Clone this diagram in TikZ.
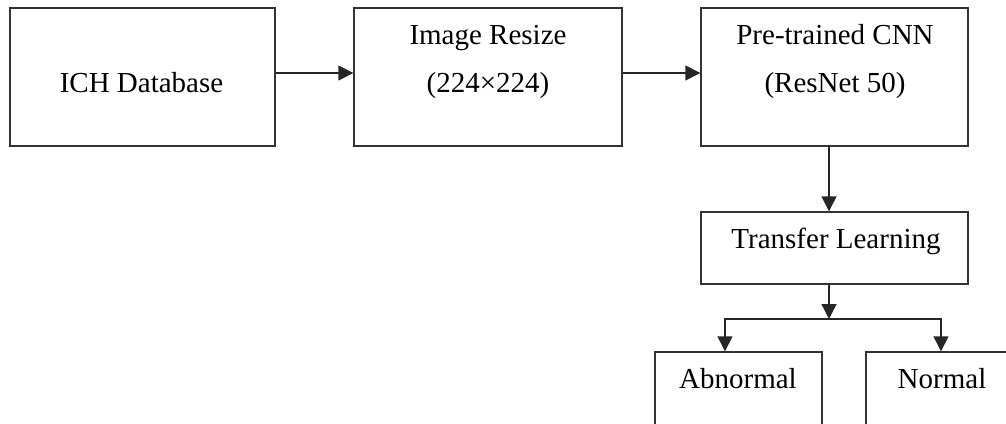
\documentclass[tikz,border=0pt]{standalone}
\usepackage{fontspec}
\setmainfont{Liberation Serif}
\usetikzlibrary{arrows.meta,positioning,calc}
\begin{document}
\begin{tikzpicture}[x=1pt,y=1pt,
  box/.style={draw=black!80,line width=1.4pt,rectangle,inner sep=0pt,minimum width=#1},
  txt/.style={anchor=base,inner sep=0pt,font=\fontsize{29}{33}\selectfont},
  arr/.style={draw=black!85,line width=1.4pt,-{Triangle[length=15pt,width=15pt]}}]
\useasboundingbox (0,0) rectangle (1006,-423);
\clip (0,0) rectangle (1006,-423);
\fill[white] (0,0) rectangle (1006,-423);
% boxes
\node[box=265pt,minimum height=138pt] (b1) at (142.5,-77) {};
\node[box=268pt,minimum height=138pt] (b2) at (488,-77) {};
\node[box=267pt,minimum height=138pt] (b3) at (834.5,-77) {};
\node[box=267pt,minimum height=72pt] (tl) at (834.5,-248) {};
\node[box=167pt,minimum height=110pt] (ab) at (738.5,-407) {};
\node[box=167pt,minimum height=110pt] (nm) at (949.5,-407) {};
% texts
\node[txt] (t1) at (141.5,-92) {ICH Database};
\node[txt] (t2a) at (488,-44) {Image Resize};
\node[txt] (t2b) at (488,-92) {(224×224)};
\node[txt] (t3a) at (835,-44) {Pre-trained CNN};
\node[txt] (t3b) at (835,-92) {(ResNet 50)};
\node[txt] (t4) at (836,-248) {Transfer Learning};
\node[txt] (t5) at (738,-388) {Abnormal};
\node[txt] (t6) at (942,-388) {Normal};
% connectors
\coordinate (split) at (829,-319);
\draw[arr] ([yshift=4pt]b1.east) -- ([yshift=4pt]b2.west);
\draw[arr] ([yshift=4pt]b2.east) -- ([yshift=4pt]b3.west);
\draw[arr] ([xshift=-5.5pt]b3.south) -- ([xshift=-5.5pt]tl.north);
\draw[arr] ([xshift=-5.5pt]tl.south) -- (split);
\draw[arr] (split) -| ([xshift=-13.5pt]ab.north);
\draw[arr] (split) -| ([xshift=-8.5pt]nm.north);
\end{tikzpicture}
\end{document}
